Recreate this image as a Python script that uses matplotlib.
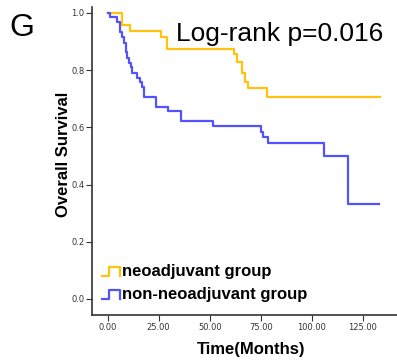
import matplotlib
matplotlib.use("Agg")
import matplotlib.pyplot as plt
from matplotlib.legend_handler import HandlerBase
from matplotlib.lines import Line2D

# Kaplan-Meier step data
neo_time = [0, 7.2, 10.9, 26.1, 28.9, 61.9, 63.2, 66.0, 67.3, 68.9, 77.9, 133.5]
neo_surv = [1.0, 0.958, 0.938, 0.917, 0.875, 0.857, 0.830, 0.789, 0.760, 0.737, 0.707, 0.707]

non_time = [0, 1.1, 4.7, 6.0, 6.9, 8.0, 8.8, 9.6, 10.4, 11.3, 12.1, 14.5, 15.8, 16.7,
            17.8, 23.7, 29.7, 36.1, 51.8, 75.0, 76.0, 78.7, 106.0, 117.9, 133.0]
non_surv = [1.0, 0.987, 0.970, 0.935, 0.917, 0.894, 0.865, 0.842, 0.824, 0.812, 0.789,
            0.772, 0.760, 0.740, 0.705, 0.672, 0.657, 0.624, 0.606, 0.585, 0.566, 0.547,
            0.501, 0.332, 0.332]

group_labels = ["neoadjuvant group", "non-neoadjuvant group"]
group_colors = ["#FFC20E", "#5252FF"]
x_ticks = [0, 25, 50, 75, 100, 125]
y_ticks = [0.0, 0.2, 0.4, 0.6, 0.8, 1.0]


class StepHandler(HandlerBase):
    # little SPSS-style step symbol for the legend
    def create_artists(self, legend, orig_handle, xd, yd, w, h, fontsize, trans):
        lo = yd + 0.0 * h
        hi = yd + 0.75 * h
        xs = [xd, xd + 0.38 * w, xd + 0.38 * w, xd + w, xd + w]
        ys = [lo, lo, hi, hi, lo]
        ln = Line2D(xs, ys, color=orig_handle.get_color(), lw=1.6, transform=trans)
        return [ln]


fig = plt.figure(figsize=(3.97, 3.6), dpi=100)
ax = fig.add_axes([0.2317, 0.125, 0.7683, 0.8556])

l1, = ax.step(neo_time, neo_surv, where="post", color=group_colors[0], lw=1.6)
l2, = ax.step(non_time, non_surv, where="post", color=group_colors[1], lw=1.6)

ax.set_xlim(-7.7, 141.8)
ax.set_ylim(-0.056, 1.021)
ax.set_xticks(x_ticks)
ax.set_xticklabels(["%.2f" % t for t in x_ticks])
ax.set_yticks(y_ticks)
ax.set_yticklabels(["%.1f" % t for t in y_ticks])

for s in ["top", "right"]:
    ax.spines[s].set_visible(False)
for s in ["left", "bottom"]:
    ax.spines[s].set_color("#333333")
    ax.spines[s].set_linewidth(1.2)
ax.tick_params(direction="out", length=4, width=0.8, colors="#333333",
               labelsize=6, labelcolor="#333333", pad=1.5)

ax.set_ylabel("Overall Survival", fontsize=12, fontweight="bold",
              family="Liberation Sans")
ax.yaxis.set_label_coords(-0.068, 0.52)
ax.set_xlabel("Time(Months)", fontsize=12, fontweight="bold",
              family="Liberation Sans")
ax.xaxis.set_label_coords(0.521, -0.088)

leg = ax.legend([l1, l2], group_labels, handler_map={Line2D: StepHandler()},
                loc="lower left", bbox_to_anchor=(0.012, 0.022), frameon=False,
                prop={"family": "Liberation Sans", "weight": "bold", "size": 12},
                handlelength=1.05, handletextpad=0.15, labelspacing=0.45,
                borderaxespad=0)

ax.text(0.275, 0.89, "Log-rank p=0.016", transform=ax.transAxes,
        fontsize=19, family="Liberation Sans", va="baseline", ha="left")
fig.text(0.054, 0.922, "G", fontsize=23, family="Liberation Sans",
         va="center", ha="center")

fig.savefig("out.png", dpi=100)
